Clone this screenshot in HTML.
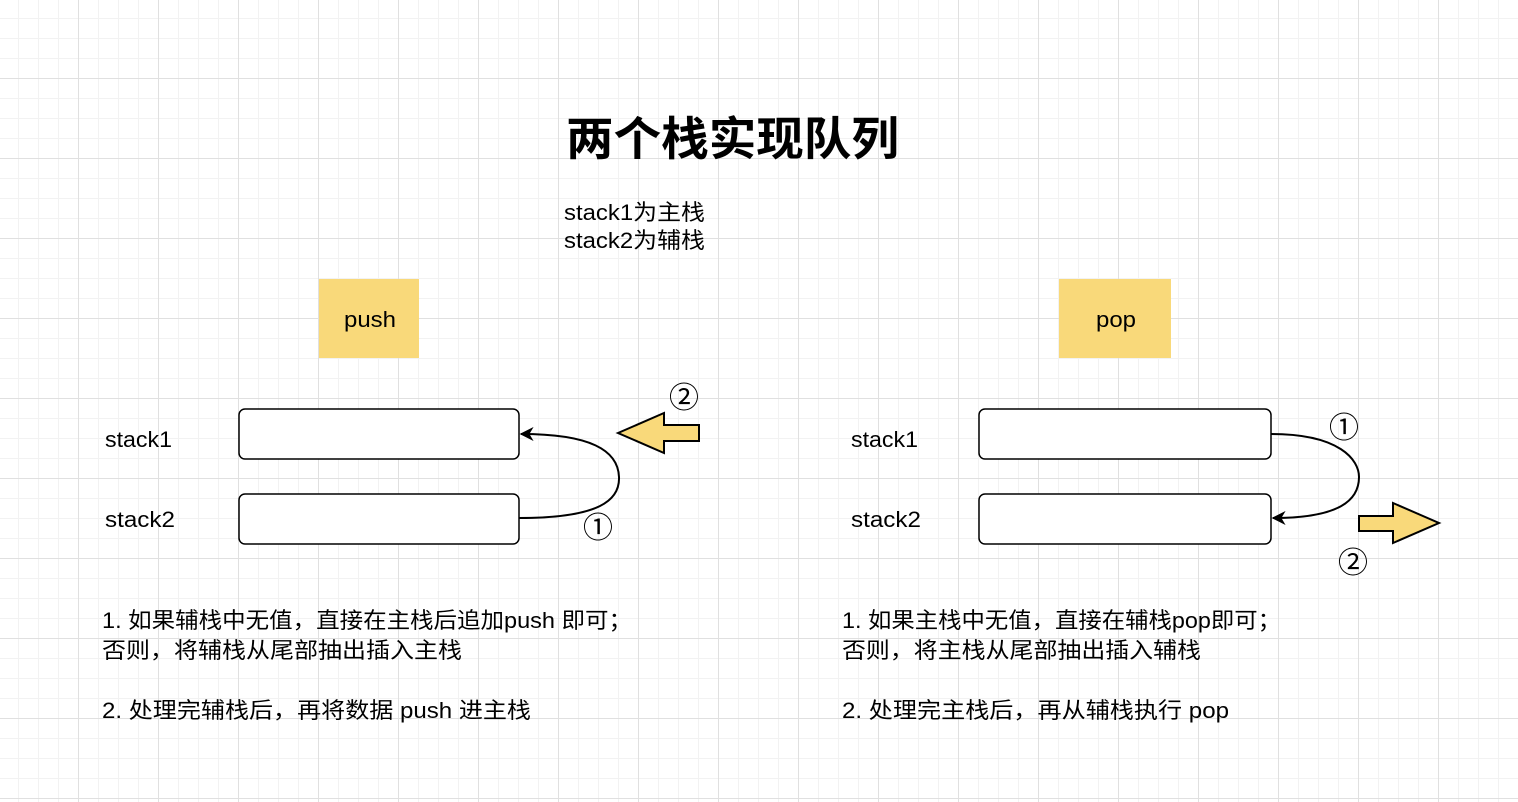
<!DOCTYPE html>
<html><head><meta charset="utf-8"><style>
html,body{margin:0;padding:0;background:#fff;}
body{width:1518px;height:802px;overflow:hidden;position:relative;
background-image:
linear-gradient(to right,#e0e0e0 1px,transparent 1px),
linear-gradient(to bottom,#e0e0e0 1px,transparent 1px),
linear-gradient(to right,#f2f2f2 1px,transparent 1px),
linear-gradient(to bottom,#f2f2f2 1px,transparent 1px);
background-size:80px 80px,80px 80px,20px 20px,20px 20px;
background-position:78px 78px,78px 78px,18px 18px,18px 18px;}
svg{position:absolute;left:0;top:0;}
text{font-family:"Liberation Sans","Noto Sans CJK SC",sans-serif;fill:#000;}
</style></head><body>
<svg width="1518" height="802" viewBox="0 0 1518 802">
<defs><marker id="ah" viewBox="0 0 10 10" refX="9" refY="5" markerWidth="14" markerHeight="14" orient="auto" markerUnits="userSpaceOnUse"><path d="M0,0 L10,5 L0,10 L3,5 Z" fill="#000"/></marker></defs>
<text x="566" y="155" font-size="46" font-weight="bold" textLength="333" lengthAdjust="spacingAndGlyphs">两个栈实现队列</text>
<text x="564" y="220" font-size="22" textLength="141" lengthAdjust="spacingAndGlyphs">stack1为主栈</text>
<text x="564" y="248" font-size="22" textLength="141" lengthAdjust="spacingAndGlyphs">stack2为辅栈</text>

<rect x="319" y="279" width="100" height="79" fill="#f9d97a"/>
<text x="344" y="327" font-size="22" textLength="52" lengthAdjust="spacingAndGlyphs">push</text>
<rect x="1059" y="279" width="112" height="79" fill="#f9d97a"/>
<text x="1096" y="327" font-size="22" textLength="40" lengthAdjust="spacingAndGlyphs">pop</text>

<g font-size="22">
<text x="105" y="447" textLength="67" lengthAdjust="spacingAndGlyphs">stack1</text>
<text x="105" y="527" textLength="70" lengthAdjust="spacingAndGlyphs">stack2</text>
<text x="851" y="447" textLength="67" lengthAdjust="spacingAndGlyphs">stack1</text>
<text x="851" y="527" textLength="70" lengthAdjust="spacingAndGlyphs">stack2</text>
</g>

<rect x="239" y="409" width="280" height="50" rx="6" fill="#fff" stroke="#000" stroke-width="1.5"/>
<rect x="239" y="494" width="280" height="50" rx="6" fill="#fff" stroke="#000" stroke-width="1.5"/>
<rect x="979" y="409" width="292" height="50" rx="6" fill="#fff" stroke="#000" stroke-width="1.5"/>
<rect x="979" y="494" width="292" height="50" rx="6" fill="#fff" stroke="#000" stroke-width="1.5"/>

<path d="M519,518 C600,518 620,500 619,477 C618,450 590,434 521,434" fill="none" stroke="#000" stroke-width="2" marker-end="url(#ah)"/>
<path d="M1271,434 C1340,434 1359,460 1359,477 C1359,500 1340,518 1273,518" fill="none" stroke="#000" stroke-width="2" marker-end="url(#ah)"/>

<polygon points="618,433 664,413 664,425 699,425 699,441 664,441 664,453" fill="#f9d97a" stroke="#000" stroke-width="2"/>
<polygon points="1359,516 1393,516 1393,503 1439,523 1393,543 1393,531 1359,531" fill="#f9d97a" stroke="#000" stroke-width="2"/>

<g font-size="30" font-family="DejaVu Sans, sans-serif">
<text x="684" y="408" text-anchor="middle">②</text>
<text x="598" y="538" text-anchor="middle">①</text>
<text x="1344" y="438" text-anchor="middle">①</text>
<text x="1353" y="573" text-anchor="middle">②</text>
</g>

<g font-size="22">
<text x="102" y="628" textLength="530" lengthAdjust="spacingAndGlyphs">1. 如果辅栈中无值，直接在主栈后追加push 即可；</text>
<text x="102" y="658" textLength="360" lengthAdjust="spacingAndGlyphs">否则，将辅栈从尾部抽出插入主栈</text>
<text x="102" y="718" textLength="429" lengthAdjust="spacingAndGlyphs">2. 处理完辅栈后，再将数据 push 进主栈</text>
<text x="842" y="628" textLength="439" lengthAdjust="spacingAndGlyphs">1. 如果主栈中无值，直接在辅栈pop即可；</text>
<text x="842" y="658" textLength="359" lengthAdjust="spacingAndGlyphs">否则，将主栈从尾部抽出插入辅栈</text>
<text x="842" y="718" textLength="387" lengthAdjust="spacingAndGlyphs">2. 处理完主栈后，再从辅栈执行 pop</text>
</g>
</svg>
</body></html>
